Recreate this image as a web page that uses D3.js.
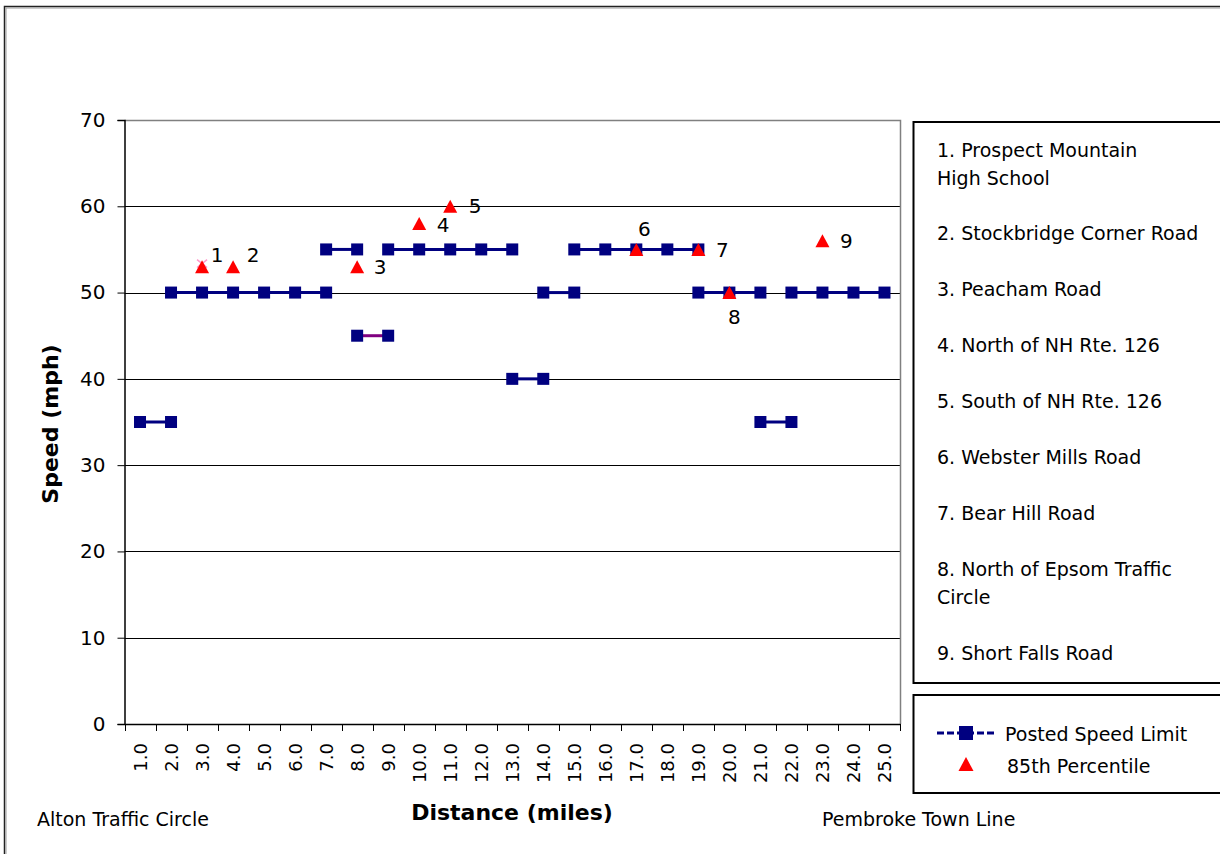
<!DOCTYPE html>
<html>
<head>
<meta charset="utf-8">
<script src="https://cdn.jsdelivr.net/npm/d3@7"></script>
<style>
  html, body { margin: 0; padding: 0; background: #fff; }
  svg { display: block; font-family: "DejaVu Sans", Verdana, sans-serif; }
</style>
</head>
<body>
<svg id="chart" width="1220" height="854"></svg>
<script>
// ---------- data ----------
const categories = ["1.0","2.0","3.0","4.0","5.0","6.0","7.0","8.0","9.0","10.0","11.0","12.0","13.0",
                    "14.0","15.0","16.0","17.0","18.0","19.0","20.0","21.0","22.0","23.0","24.0","25.0"];
const yTicks = [0, 10, 20, 30, 40, 50, 60, 70];

// Posted speed limit segments (each drawn as its own line series)
const limitFrom  = ["1.0","2.0","7.0","8.0","9.0","13.0","14.0","15.0","19.0","21.0","22.0"];
const limitTo    = ["2.0","7.0","8.0","9.0","13.0","14.0","15.0","19.0","21.0","22.0","25.0"];
const limitValue = [35, 50, 55, 45, 55, 40, 50, 55, 50, 35, 50];

// 85th percentile speeds at numbered locations
const pctCategory = ["3.0","4.0","8.0","10.0","11.0","17.0","19.0","20.0","23.0"];
const pctValue    = [53, 53, 53, 58, 60, 55, 55, 50, 56];
const pctLabel    = ["1","2","3","4","5","6","7","8","9"];

// Location key
const locationNames = [
  ["1. Prospect Mountain", "High School"],
  ["2. Stockbridge Corner Road"],
  ["3. Peacham Road"],
  ["4. North of NH Rte. 126"],
  ["5. South of NH Rte. 126"],
  ["6. Webster Mills Road"],
  ["7. Bear Hill Road"],
  ["8. North of Epsom Traffic", "Circle"],
  ["9. Short Falls Road"]
];
const seriesNames = ["Posted Speed Limit", "85th Percentile"];

// ---------- styles / layout (not data) ----------
const labelOffsets = [[15,-12],[20,-12],[23,0],[24,1],[25,0],[8,-20],[24,1],[5,24],[24,0]];
const NAVY = "#000080", RED = "#ff0000", PURPLE = "#800080", PINK = "#ff99cc";

const svg = d3.select("#chart");
const plot = {left: 124.5, right: 900, top: 120, bottom: 724};

const x = d3.scaleBand().domain(categories).range([plot.left, plot.right]).paddingInner(0).paddingOuter(0);
const y = d3.scaleLinear().domain([0, 70]).range([plot.bottom, plot.top]);
const cx = c => x(c) + x.bandwidth() / 2;
const triPath = (w, h) => `M0,${-h/2} L${w/2},${h/2} L${-w/2},${h/2} Z`;

// outer chart border
svg.append("path").attr("d", "M4.5,860 V6.5 H1230").attr("fill", "none").attr("stroke", "#222").attr("stroke-width", 1.5);
svg.append("path").attr("d", "M6,860 V8 H1230").attr("fill", "none").attr("stroke", "#999").attr("stroke-width", 1);

// gridlines
svg.append("g").selectAll("line").data(yTicks.filter(t => t > 0 && t < 70)).join("line")
  .attr("x1", plot.left).attr("x2", plot.right)
  .attr("y1", d => Math.round(y(d)) + 0.5).attr("y2", d => Math.round(y(d)) + 0.5)
  .attr("stroke", "#000").attr("stroke-width", 1);

// plot area top & right border (gray)
svg.append("path")
  .attr("d", `M${plot.left},${plot.top + 0.5} H${plot.right + 0.5} V${plot.bottom}`)
  .attr("fill", "none").attr("stroke", "#808080").attr("stroke-width", 1.5);

// y axis
const yAxis = svg.append("g").attr("transform", `translate(${plot.left},0)`)
  .call(d3.axisLeft(y).tickValues(yTicks).tickSize(7).tickPadding(12).tickFormat(d3.format("d")));
yAxis.select(".domain").attr("stroke", "#000").attr("stroke-width", 1.5);
yAxis.selectAll(".tick line").attr("stroke", "#000");
yAxis.selectAll(".tick text").attr("font-size", 20).attr("fill", "#000")
  .attr("font-family", "DejaVu Sans");

// x axis
const xAxis = svg.append("g").attr("transform", `translate(0,${plot.bottom})`)
  .call(d3.axisBottom(x).tickSize(0).tickFormat(d => d));
xAxis.select(".domain").attr("stroke", "#000").attr("stroke-width", 1.5);
xAxis.selectAll(".tick text")
  .attr("font-size", 18).attr("fill", "#000").attr("font-family", "DejaVu Sans")
  .attr("text-anchor", "end").attr("dominant-baseline", "central")
  .attr("transform", "translate(0,19) rotate(-90)").attr("x", 0).attr("y", 0).attr("dy", null);
// category boundary ticks
const bounds = categories.map(c => x(c)).concat([plot.right]);
svg.append("g").selectAll("line").data(bounds).join("line")
  .attr("x1", d => Math.round(d) + 0.5).attr("x2", d => Math.round(d) + 0.5)
  .attr("y1", plot.bottom).attr("y2", plot.bottom + 7)
  .attr("stroke", "#000").attr("stroke-width", 1);

// posted speed limit lines
const line = d3.line().x(d => cx(d.c)).y(d => y(d.v));
limitValue.forEach((v, i) => {
  const a = categories.indexOf(limitFrom[i]), b = categories.indexOf(limitTo[i]);
  const pts = categories.slice(a, b + 1).map(c => ({c, v}));
  svg.append("path").datum(pts).attr("d", line)
    .attr("fill", "none").attr("stroke", v === 45 ? PURPLE : NAVY).attr("stroke-width", 3);
  svg.append("g").selectAll("rect").data(pts).join("rect")
    .attr("x", d => cx(d.c) - 6).attr("y", d => y(d.v) - 6)
    .attr("width", 12).attr("height", 12).attr("fill", NAVY);
});

// small pink x marker under triangle 1
{
  const px = cx(pctCategory[0]), py = y(pctValue[0]) - 3;
  svg.append("path").attr("d", `M${px-5},${py-4} L${px+5},${py+4} M${px-5},${py+4} L${px+5},${py-4}`)
    .attr("stroke", PINK).attr("stroke-width", 1.5).attr("fill", "none");
}

// 85th percentile triangles
const pctData = pctValue.map((v, i) => ({c: pctCategory[i], v, i}));
svg.append("g").selectAll("path").data(pctData).join("path")
  .attr("d", triPath(14, 13)).attr("transform", d => `translate(${cx(d.c)},${y(d.v)})`)
  .attr("fill", RED);

// labels
svg.append("g").selectAll("text").data(pctData).join("text")
  .attr("x", d => cx(d.c) + labelOffsets[d.i][0])
  .attr("y", d => y(d.v) + labelOffsets[d.i][1])
  .attr("text-anchor", "middle").attr("dominant-baseline", "central")
  .attr("font-size", 20).attr("fill", "#000")
  .text(d => pctLabel[d.i]);

// axis titles
svg.append("text").attr("transform", "translate(58,424) rotate(-90)")
  .attr("text-anchor", "middle").attr("font-size", 22).attr("font-weight", "bold").text("Speed (mph)");
svg.append("text").attr("x", 512).attr("y", 820)
  .attr("text-anchor", "middle").attr("font-size", 22).attr("font-weight", "bold").text("Distance (miles)");

// end labels
svg.append("text").attr("x", 37).attr("y", 826).attr("font-size", 19).text("Alton Traffic Circle");
svg.append("text").attr("x", 822).attr("y", 826).attr("font-size", 19).text("Pembroke Town Line");

// location key box
svg.append("rect").attr("x", 913.5).attr("y", 122).attr("width", 400).attr("height", 561)
  .attr("fill", "none").attr("stroke", "#000").attr("stroke-width", 2);
const entryBase = [157, 240, 296, 352, 408, 464, 520, 576, 660];
locationNames.forEach((lines, i) => {
  const t = svg.append("text").attr("x", 937).attr("y", entryBase[i]).attr("font-size", 19);
  lines.forEach((s, j) => t.append("tspan").attr("x", 937).attr("dy", j === 0 ? 0 : 27.5).text(s));
});

// series legend box
svg.append("rect").attr("x", 913.5).attr("y", 695).attr("width", 400).attr("height", 98)
  .attr("fill", "none").attr("stroke", "#000").attr("stroke-width", 2);
svg.append("line").attr("x1", 937).attr("x2", 995).attr("y1", 733).attr("y2", 733)
  .attr("stroke", NAVY).attr("stroke-width", 3).attr("stroke-dasharray", "7,3");
svg.append("rect").attr("x", 959).attr("y", 726).attr("width", 14).attr("height", 14).attr("fill", NAVY);
svg.append("text").attr("x", 1005).attr("y", 741).attr("font-size", 19).text(seriesNames[0]);
svg.append("path").attr("d", triPath(15, 14))
  .attr("transform", "translate(966,764)").attr("fill", RED);
svg.append("text").attr("x", 1007).attr("y", 773).attr("font-size", 19).text(seriesNames[1]);
</script>
</body>
</html>
